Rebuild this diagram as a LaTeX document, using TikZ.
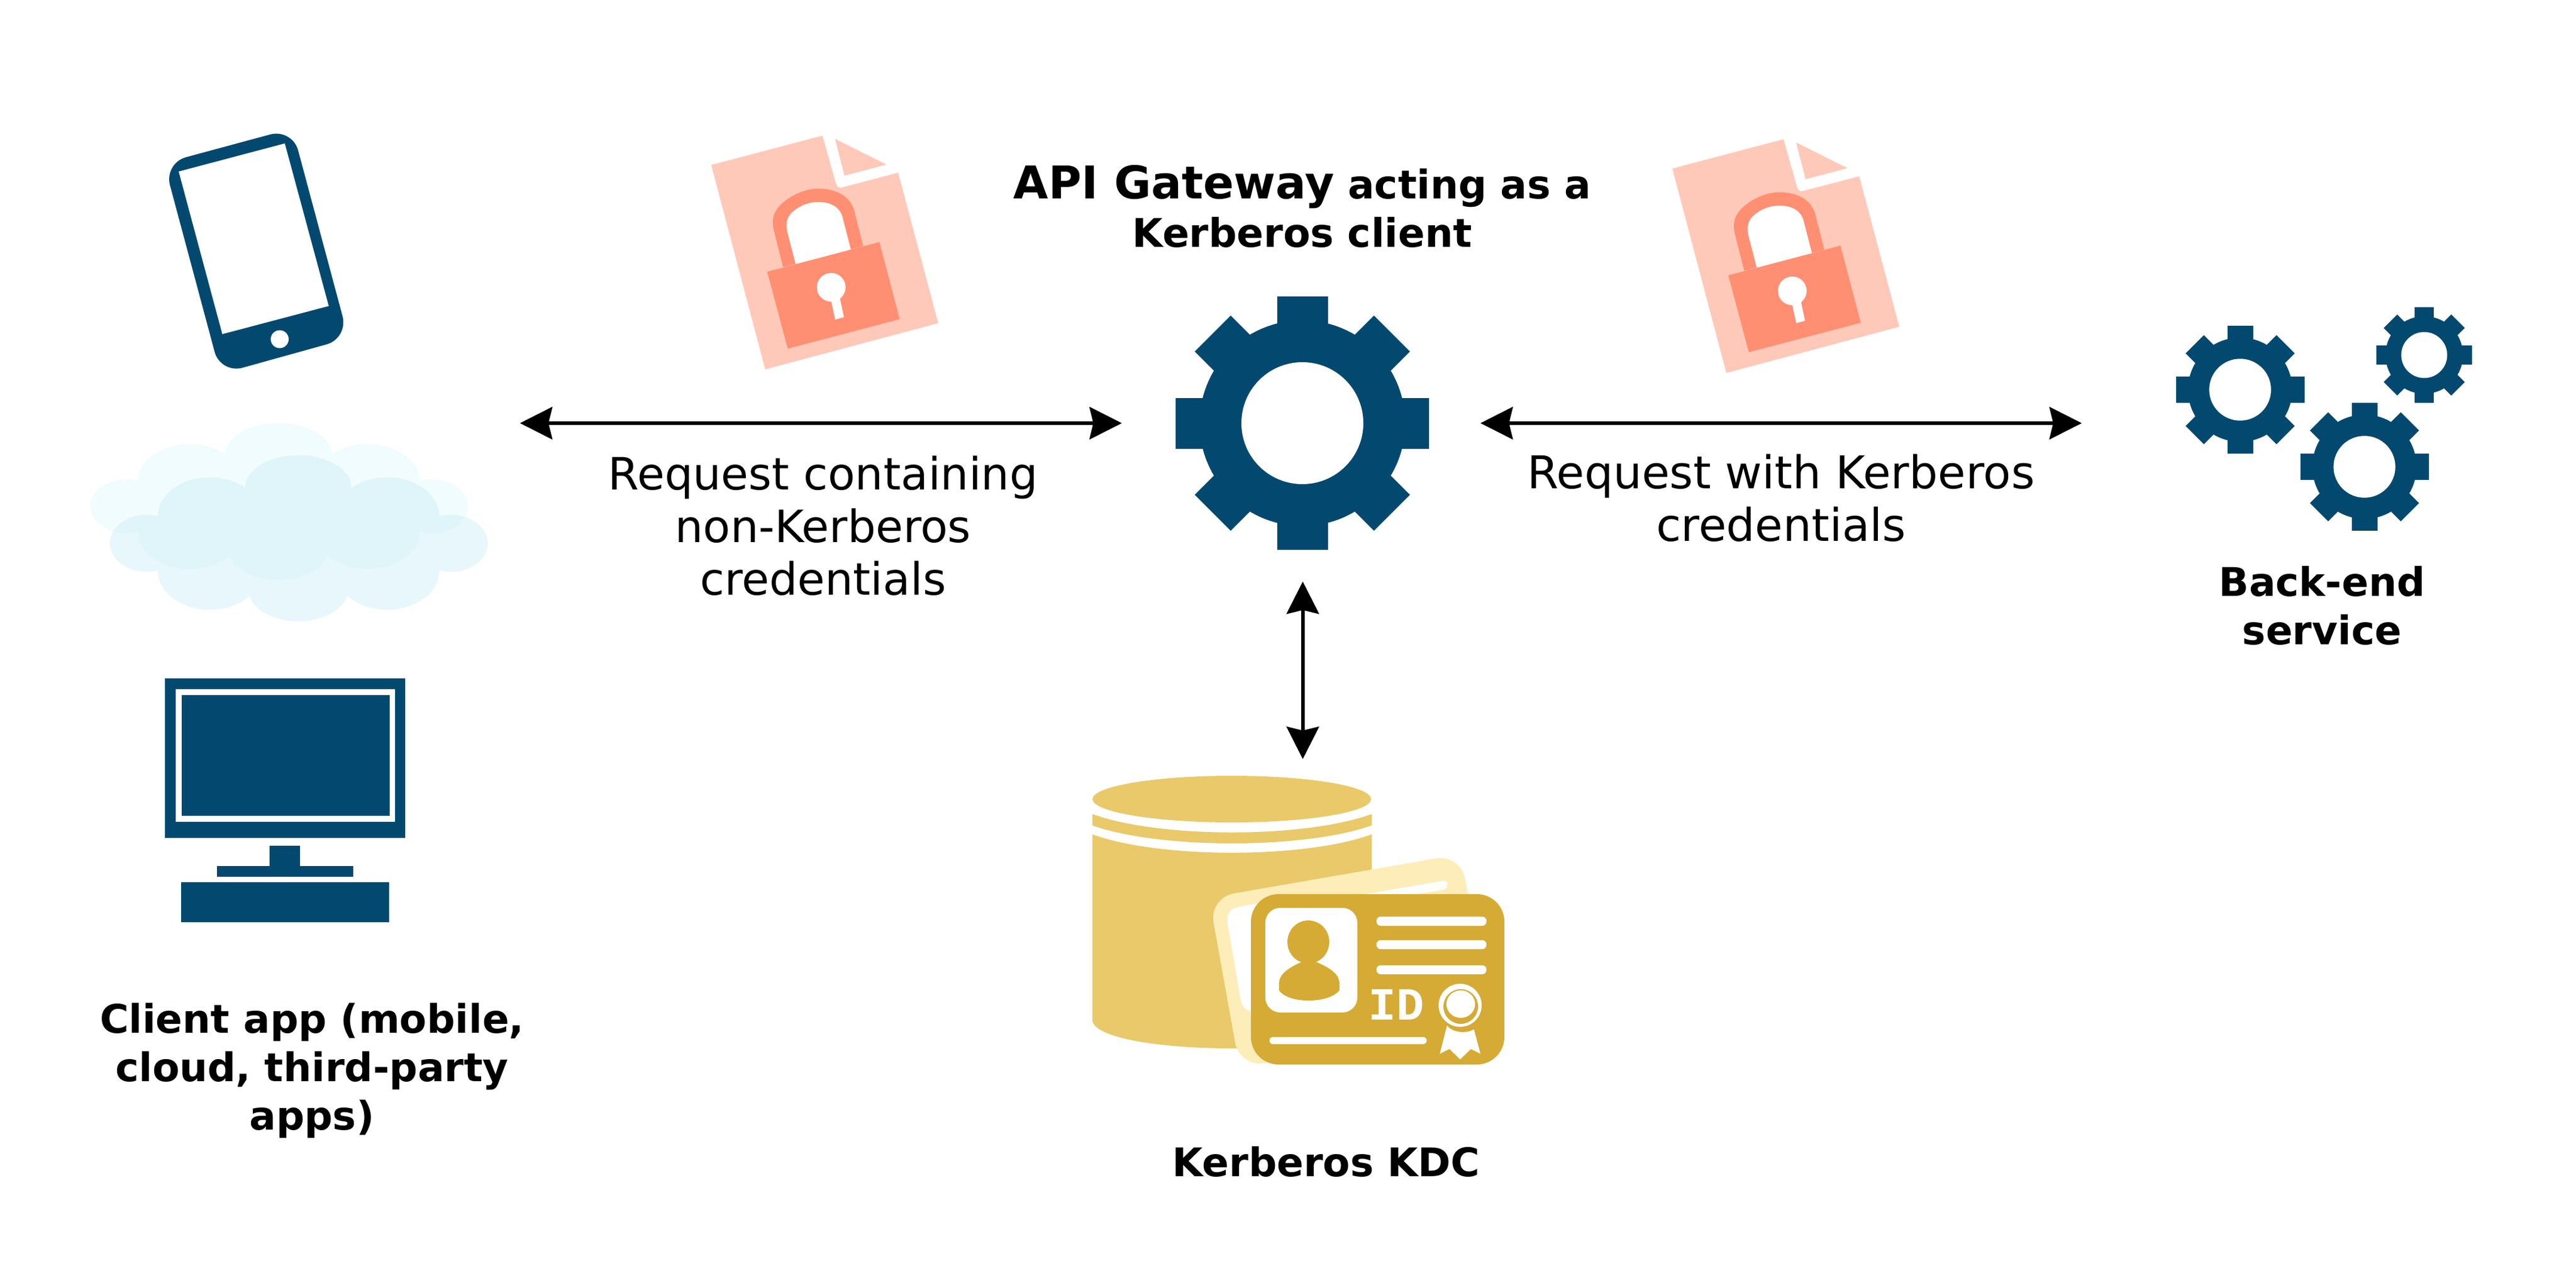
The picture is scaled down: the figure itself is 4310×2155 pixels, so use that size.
\documentclass[tikz,border=0pt]{standalone}
\usepackage{fontspec}
\setmainfont{DejaVu Sans}
\newfontfamily\idfont{Liberation Mono}
\usetikzlibrary{arrows.meta}
\definecolor{navy}{HTML}{03496F}
\definecolor{docpink}{HTML}{FFC9B9}
\definecolor{locksalmon}{HTML}{FF8F73}
\definecolor{cloudback}{HTML}{F0FCFE}
\definecolor{cloudfront}{HTML}{E8F7FB}
\definecolor{cloudboth}{HTML}{E0F5FA}
\definecolor{drumgold}{HTML}{E9C969}
\definecolor{cardpale}{HTML}{FDEDB9}
\definecolor{cardgold}{HTML}{D5AB36}
\newcommand{\cloudlobes}{
  (-255,0) ellipse (61 and 45)
  (-149,-42) ellipse (87 and 62)
  (-149,43) ellipse (87 and 62)
  (-1,-87) ellipse (89 and 52)
  (-1,72) ellipse (84 and 51)
  (148,-42) ellipse (87 and 62)
  (148,43) ellipse (87 and 62)
  (255,0) ellipse (61 and 45)
  (0,0) ellipse (235 and 60)}
\tikzset{
  boldlabel/.style={align=center,inner sep=0,font=\fontsize{18.8}{23}\selectfont\bfseries},
  pluslabel/.style={align=center,inner sep=0,font=\fontsize{21.5}{25}\selectfont},
  dubarrow/.style={{Stealth[length=0.54cm,width=0.54cm,inset=0.063cm]}-{Stealth[length=0.54cm,width=0.54cm,inset=0.063cm]},line width=0.06cm},
  whitebar/.style={fill=white,rounded corners=0.07cm},
  gearicon/.pic={
    \foreach \a in {0,45,...,315}
      \fill[navy,rotate=\a] (-42.5,165) rectangle (42.5,212);
    \fill[navy] (0,0) circle (172);
    \fill[white] (0,0) circle (102);
  },
  docicon/.pic={
    \fill[docpink] (0,49) -- (186,0) -- (208.7,80.3) .. controls (210,85) and (213,88) .. (219,86.5)
      -- (312.7,62) -- (379.7,313.7) -- (90.3,391) -- cycle;
    \fill[docpink] (207,5.3) -- (293,48.3) -- (223,67) -- cycle;
    \fill[locksalmon] (120.3,220) -- (104.7,158.7) .. controls (98,132) and (112,118) .. (125,108)
      .. controls (140,97) and (160,88.7) .. (178.7,88.7)
      .. controls (208,88.7) and (231,100) .. (238.7,123.7) -- (254.3,184.7) -- cycle;
    \fill[white] (141.3,215) -- (127,160) .. controls (124,146) and (127,134) .. (138.7,125.3)
      .. controls (150,116) and (165,111) .. (178.7,111)
      .. controls (198,111) and (214,118) .. (219.3,135.3) -- (233.7,191) -- cycle;
    \fill[locksalmon] (93.7,227.7) -- (281.3,178) -- (315.3,307) -- (128,356.3) -- cycle;
    \fill[white] (200.7,253.7) circle (24);
    \fill[white] (199.3,270) -- (214.3,267) -- (222,303.7) -- (207.3,307.7) -- cycle;
  }
}
\begin{document}
\begin{tikzpicture}[x=0.01cm,y=-0.01cm]
  \useasboundingbox (0,0) rectangle (4310,2155);

  \fill[navy,rounded corners=0.38cm] (274.5,273) -- (489,215) -- (583,566) -- (369,625.5) -- cycle;
  \fill[white] (299,287) -- (476.5,240) -- (550,512) -- (372,559) -- cycle;
  \fill[white] (468,567.5) circle (15);

  \fill[cloudback,shift={(467,847)}] \cloudlobes;
  \fill[cloudfront,shift={(500,909)},yscale=1.06] \cloudlobes;
  \begin{scope}
    \clip[shift={(467,847)}] \cloudlobes;
    \fill[cloudboth,shift={(500,909)},yscale=1.06] \cloudlobes;
  \end{scope}

  \fill[navy] (276,1134.5) rectangle (678,1402);
  \fill[white] (294,1153) rectangle (661,1375);
  \fill[navy] (304,1163) rectangle (651.5,1365);
  \fill[navy] (451,1415) rectangle (502,1449);
  \fill[navy] (363,1449) rectangle (591,1467);
  \fill[navy] (303,1476) rectangle (651,1543);

  \pic at (1190,227) {docicon};
  \pic at (2798,233) {docicon};

  \pic at (2179,708) {gearicon};
  \pic[scale=0.507] at (3748,652) {gearicon};
  \pic[scale=0.507] at (3956,781) {gearicon};
  \pic[scale=0.377] at (4056,594) {gearicon};

  \fill[drumgold] (2061,1337) ellipse (233 and 39);
  \fill[drumgold] (1827.5,1362) .. controls (1940,1403) and (2183,1403) .. (2295,1362)
    -- (2295,1381) .. controls (2183,1421) and (1940,1421) .. (1827.5,1381) -- cycle;
  \fill[drumgold] (1827.5,1396) .. controls (1940,1437) and (2183,1437) .. (2295,1396)
    -- (2295,1706) .. controls (2295,1735) and (2190,1754) .. (2061,1754)
    .. controls (1933,1754) and (1827.5,1735) .. (1827.5,1706) -- cycle;

  \fill[cardpale,rounded corners=0.42cm] (2023,1502) -- (2444,1429) -- (2495,1713) -- (2074,1786) -- cycle;
  \fill[white] (2076,1674) -- (2054,1545) .. controls (2052,1525) and (2060,1520) .. (2073,1517)
    -- (2106,1511) -- (2290,1495) -- (2415,1473.6) .. controls (2424,1473) and (2424,1487) .. (2415,1488.6)
    -- (2372,1496) -- (2372,1600) -- (2100,1700) -- (2092,1691) .. controls (2082,1690) and (2078,1682) .. (2076,1674) -- cycle;
  \fill[cardgold,rounded corners=0.46cm] (2093,1496) rectangle (2517,1781);
  \fill[white,rounded corners=0.25cm] (2117,1519) rectangle (2271,1694);
  \fill[cardgold] (2189,1576) ellipse (35 and 36);
  \fill[cardgold] (2179,1609) -- (2201,1609) .. controls (2225,1619) and (2241,1630) .. (2241,1645)
    -- (2241,1657) .. controls (2232,1668) and (2212,1674) .. (2189.5,1674)
    .. controls (2167,1674) and (2148,1668) .. (2140,1657) -- (2140,1645)
    .. controls (2140,1630) and (2156,1619) .. (2179,1609) -- cycle;
  \fill[whitebar] (2303,1533.6) rectangle (2487,1549);
  \fill[whitebar] (2303,1573) rectangle (2487,1588);
  \fill[whitebar] (2303,1615) rectangle (2487,1630);
  \fill[whitebar,rounded corners=0.06cm] (2124,1735) rectangle (2387,1747);
  \node (idtag) at (2336,1681) [inner sep=0,white,font=\idfont\fontsize{22}{22}\selectfont\bfseries] {ID};
  \fill[white] (2443,1682) circle (36);
  \fill[cardgold] (2444,1684) circle (29);
  \fill[white] (2444,1680) ellipse (24 and 23);
  \fill[white] (2421,1716) .. controls (2430,1728) and (2455,1730) .. (2466,1722)
    -- (2477,1763) -- (2461,1755) -- (2443,1772.5) -- (2425,1755) -- (2409,1763) -- cycle;

  \coordinate (clientport) at (870,708);
  \coordinate (gatewayleft) at (1877,708);
  \coordinate (gatewayright) at (2477,708);
  \coordinate (backendport) at (3483,708);
  \coordinate (gatewaybottom) at (2179.7,973);
  \coordinate (kdcport) at (2179.7,1270);
  \draw[dubarrow] (clientport) to (gatewayleft);
  \draw[dubarrow] (gatewayright) to (backendport);
  \draw[dubarrow] (gatewaybottom) to (kdcport);

  \node (gatewaytext) at (2179,345) [boldlabel] {{\fontsize{21.5}{23}\selectfont API Gateway} acting as a\\Kerberos client};
  \node (leftrequest) at (1377,880) [pluslabel,font=\fontsize{21.2}{25}\selectfont] {Request containing\\non-Kerberos\\credentials};
  \node (rightrequest) at (2980,833) [pluslabel] {Request with Kerberos\\credentials};
  \node (backendtext) at (3885,1013) [boldlabel] {Back-end\\service};
  \node (clienttext) at (522,1791) [boldlabel] {Client app (mobile,\\cloud, third-party\\apps)};
  \node (kdctext) at (2219,1944) [boldlabel] {Kerberos KDC};
\end{tikzpicture}
\end{document}
